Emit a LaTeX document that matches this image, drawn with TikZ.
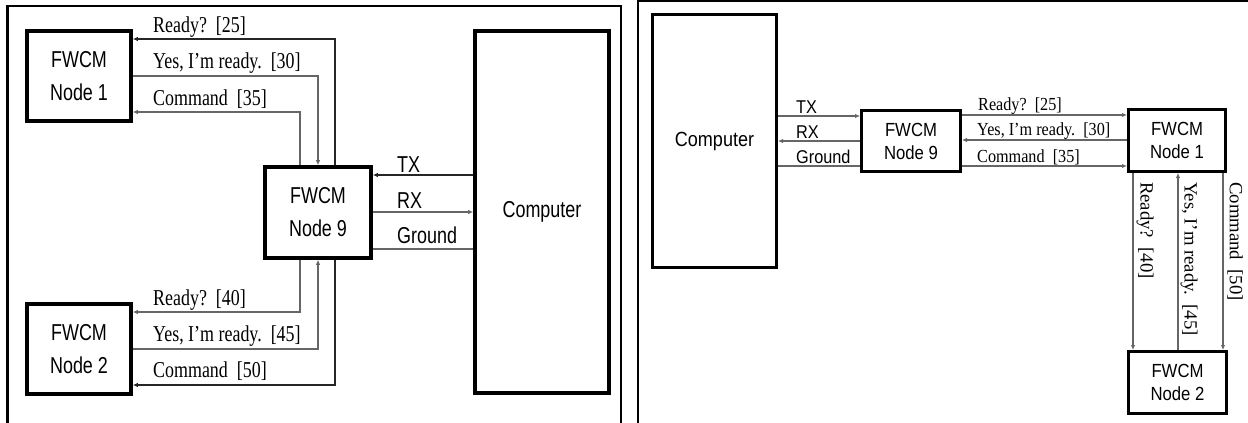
\documentclass[tikz,border=0pt]{standalone}
\usepackage{fontspec}
\usetikzlibrary{arrows.meta}
\newfontfamily\lsans[FakeStretch=0.78]{Liberation Sans}
\newfontfamily\lserif[FakeStretch=0.79]{Liberation Serif}
\newfontfamily\rsans[FakeStretch=0.88]{Liberation Sans}
\newfontfamily\rserif[FakeStretch=0.88]{Liberation Serif}
\newfontfamily\vserif{Liberation Serif}
\begin{document}
\begin{tikzpicture}[x=1pt,y=-1pt,
 lbox/.style={draw, line width=3.6pt, inner sep=0pt, align=center, font=\lsans\fontsize{23pt}{33pt}\selectfont},
 rbox/.style={draw, line width=3pt, inner sep=0pt, align=center, font=\rsans\fontsize{19pt}{23pt}\selectfont},
 conn/.style={line width=1.2pt, draw=black!60},
 arr/.style={conn, -{Latex[length=5pt,width=4.5pt]}},
 llab/.style={anchor=base west, inner sep=0pt, font=\lserif\fontsize{22.7pt}{26pt}\selectfont},
 lsig/.style={anchor=base west, inner sep=0pt, font=\lsans\fontsize{23pt}{26pt}\selectfont},
 rlab/.style={anchor=base west, inner sep=0pt, font=\rserif\fontsize{18.4pt}{22pt}\selectfont},
 rsig/.style={anchor=base west, inner sep=0pt, font=\rsans\fontsize{18.5pt}{22pt}\selectfont},
 vlab/.style={rotate=-90, anchor=west, inner sep=0pt, font=\vserif\fontsize{18.7pt}{22pt}\selectfont},
 frameline/.style={line width=2.2pt}
]
\useasboundingbox (0,0) rectangle (1248,423);
\clip (0,0) rectangle (1248,423);
\fill[white] (0,0) rectangle (1248,423);

% ---------- frames ----------
\draw[frameline] (7.5,430) -- (7.5,6) -- (621,6) -- (621,430);
\draw[frameline] (638,430) -- (638,1.2) -- (1260,1.2);

% ---------- left panel ----------
\node[lbox, minimum width=104pt, minimum height=90pt] (L1) at (79,76) {FWCM\\Node 1};
\node[lbox, minimum width=106pt, minimum height=91pt] (L9) at (318,212.5) {FWCM\\Node 9};
\node[lbox, minimum width=104pt, minimum height=90pt] (L2) at (79,349) {FWCM\\Node 2};
\node[lbox, minimum width=134pt, minimum height=362pt] (LC) at (542,212) {Computer};

\coordinate (lxa) at (300,0);
\coordinate (lxb) at (318,0);
\coordinate (lxc) at (335,0);
\coordinate (ly25) at (0,39);
\coordinate (ly30) at (0,76);
\coordinate (ly35) at (0,112);
\coordinate (ly40) at (0,312);
\coordinate (ly45) at (0,349);
\coordinate (ly50) at (0,385);
\coordinate (lytx) at (0,175);
\coordinate (lyrx) at (0,212);
\coordinate (lygd) at (0,249);

\draw[arr, draw=black!85] (L9.north -| lxc) |- (L1.east |- ly25);
\draw[arr] (L1.east |- ly30) -| (L9.north -| lxb);
\draw[arr] (L9.north -| lxa) |- (L1.east |- ly35);
\draw[arr] (L9.south -| lxa) |- (L2.east |- ly40);
\draw[arr] (L2.east |- ly45) -| (L9.south -| lxb);
\draw[arr, draw=black!85] (L9.south -| lxc) |- (L2.east |- ly50);

\draw[arr, draw=black!85] (LC.west |- lytx) -- (L9.east |- lytx);
\draw[arr] (L9.east |- lyrx) -- (LC.west |- lyrx);
\draw[conn] (L9.east |- lygd) -- (LC.west |- lygd);

\node[llab] (t25) at (153,32) {Ready?\ \ [25]};
\node[llab] (t30) at (153,68) {Yes, I’m ready.\ \ [30]};
\node[llab] (t35) at (153,105) {Command\ \ [35]};
\node[llab] (t40) at (153,305) {Ready?\ \ [40]};
\node[llab] (t45) at (153,341) {Yes, I’m ready.\ \ [45]};
\node[llab] (t50) at (153,377) {Command\ \ [50]};

\node[lsig] (ltx) at (397,172) {TX};
\node[lsig] (lrx) at (397,208) {RX};
\node[lsig] (lgd) at (397,243) {Ground};

% ---------- right panel ----------
\node[rbox, minimum width=124pt, minimum height=253pt, font=\rsans\fontsize{20.5pt}{24pt}\selectfont] (RC) at (714.5,141) {Computer};
\node[rbox, minimum width=99pt, minimum height=61pt] (R9) at (911,141) {FWCM\\Node 9};
\node[rbox, minimum width=97pt, minimum height=62pt] (R1) at (1177,140.5) {FWCM\\Node 1};
\node[rbox, minimum width=98pt, minimum height=62pt] (R2) at (1177.5,382.5) {FWCM\\Node 2};

\coordinate (rytx) at (0,116);
\coordinate (ryrx) at (0,141);
\coordinate (rygd) at (0,166);
\coordinate (ry25) at (0,115);
\coordinate (ry30) at (0,140);
\coordinate (ry35) at (0,166);
\coordinate (rxa) at (1133,0);
\coordinate (rxb) at (1178,0);
\coordinate (rxc) at (1223,0);

\draw[arr] (RC.east |- rytx) -- (R9.west |- rytx);
\draw[arr] (R9.west |- ryrx) -- (RC.east |- ryrx);
\draw[conn] (RC.east |- rygd) -- (R9.west |- rygd);

\draw[arr] (R9.east |- ry25) -- (R1.west |- ry25);
\draw[arr] (R1.west |- ry30) -- (R9.east |- ry30);
\draw[arr] (R9.east |- ry35) -- (R1.west |- ry35);

\draw[arr] (R1.south -| rxa) -- (R2.north -| rxa);
\draw[arr] (R2.north -| rxb) -- (R1.south -| rxb);
\draw[arr] (R1.south -| rxc) -- (R2.north -| rxc);

\node[rsig] (rtx) at (796,113) {TX};
\node[rsig] (rrx) at (796,138) {RX};
\node[rsig] (rgd) at (796,163) {Ground};

\node[rlab] (s25) at (978,110) {Ready?\ \ [25]};
\node[rlab] (s30) at (977,135) {Yes, I’m ready.\ \ [30]};
\node[rlab] (s35) at (977,162) {Command\ \ [35]};

\node[vlab] (s40) at (1145,182) {Ready?\ \ [40]};
\node[vlab] (s45) at (1189,182) {Yes, I’m ready.\ \ [45]};
\node[vlab] (s50) at (1235,182) {Command\ \ [50]};
\end{tikzpicture}
\end{document}
